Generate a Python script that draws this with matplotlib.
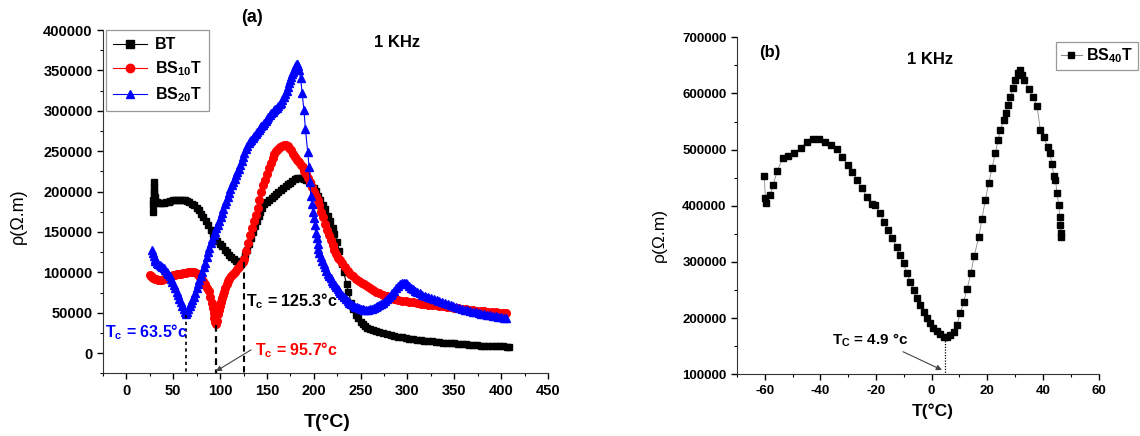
import matplotlib
matplotlib.use("Agg")
import matplotlib.pyplot as plt
from matplotlib.ticker import MultipleLocator
from matplotlib.lines import Line2D

# ---------------- data: panel (a) ----------------
bt_T = [28.5, 28.6, 28.8, 29.0, 29.1, 29.2, 29.6, 30, 31, 33, 35, 37, 40, 42, 45, 47, 50, 52, 55,
        57, 60, 62, 65, 67, 70, 72, 75, 77, 80, 82, 85, 87, 90, 92, 95, 97, 100, 102, 105, 107,
        110, 112, 115, 117, 119, 121, 123, 125, 127, 129, 131, 133, 135, 137, 139, 141, 143, 145,
        147, 150, 152, 155, 157, 160, 162, 165, 167, 170, 172, 175, 177, 180, 182, 185, 187, 190,
        192, 195, 197, 200, 202, 205, 207, 210, 212, 215, 217, 220, 222, 225, 227, 230, 232, 235,
        237, 240, 242, 245, 247, 250, 252, 255, 257, 260, 263, 266, 270, 274, 278, 282, 286, 290,
        294, 298, 302, 306, 310, 314, 318, 322, 326, 330, 334, 338, 342, 346, 350, 354, 358, 362,
        366, 370, 374, 378, 382, 386, 390, 394, 398, 402, 406, 408]
bt_R = [175000, 183000, 190000, 198000, 206000, 212000, 200000, 193000, 188000, 186500, 186000,
        186000, 186000, 186500, 187000, 188000, 189000, 189500, 190000, 190000, 190000, 189000,
        188000, 187000, 185000, 183000, 180000, 177000, 172000, 168000, 163000, 159000, 152000,
        148000, 142000, 139000, 135000, 132000, 128000, 125000, 121000, 119000, 116000, 114000,
        112500, 112000, 114000, 117000, 122000, 128000, 135000, 142000, 150000, 157000, 164000,
        170000, 175000, 180000, 184000, 187000, 189000, 192000, 194000, 197000, 199000, 202000,
        204000, 207000, 209000, 211000, 213000, 215000, 216500, 217000, 216500, 215000, 214000,
        212000, 209000, 205000, 201000, 195000, 190000, 183000, 178000, 170000, 164000, 155000,
        148000, 138000, 127000, 110000, 100000, 85000, 76000, 62000, 55000, 47000, 43000, 38000,
        36000, 33000, 31500, 30000, 29000, 27800, 26000, 25000, 23800, 22600, 21500, 20500,
        19500, 18500, 17800, 17200, 16600, 16000, 15500, 15000, 14500, 14000, 13500, 13100,
        12700, 12300, 12000, 11600, 11200, 10800, 10400, 10000, 9700, 9400, 9200, 9000, 8800,
        8600, 8400, 8200, 8100, 8000]

bs10_T = [25, 26, 27, 28.5, 30, 32, 34, 36, 38, 40, 42, 44, 46, 48, 50, 52, 54, 56, 58, 60, 62, 64,
          66, 68, 70, 72, 74, 76, 78, 80, 82, 84, 86, 88, 89.5, 91, 92, 93, 94, 95, 96, 97, 98, 99,
          100, 101, 102, 103, 104, 105.5, 107, 108.5, 110, 112, 114, 116, 118, 120, 122, 124, 126,
          128, 130, 132, 134, 136, 138, 140, 142, 144, 146, 148, 150, 152, 154, 156, 158, 160,
          162, 164, 166, 168, 170, 172, 174, 176, 178, 180, 182, 184, 186, 188, 190, 192, 194,
          196, 198, 200, 202, 204, 206, 208, 210, 212, 214, 216, 218, 220, 222, 224, 226, 228,
          230, 233, 236, 239, 242, 245, 248, 251, 254, 257, 260, 263, 266, 270, 274, 278, 282,
          286, 290, 294, 298, 302, 306, 310, 314, 318, 322, 326, 330, 334, 338, 342, 346, 350,
          354, 358, 362, 366, 370, 374, 378, 382, 386, 390, 394, 398, 402, 405]
bs10_R = [97000, 95500, 94000, 93000, 92000, 91500, 91000, 91000, 91000, 92000, 93000, 94000,
          95000, 95500, 96500, 97000, 97500, 98000, 98500, 99000, 99000, 99500, 100000, 100500,
          100500, 100000, 99000, 98000, 96000, 93000, 89000, 85000, 81000, 77000, 70000, 62000,
          56000, 50000, 44000, 38000, 36000, 40000, 48000, 53000, 58000, 63000, 68000, 72000,
          76000, 80000, 85000, 89000, 92000, 95000, 98000, 101000, 104000, 107000, 110000,
          113000, 117000, 126000, 136000, 146000, 155000, 163000, 171000, 180000, 190000,
          199000, 208000, 214000, 222000, 229000, 235000, 241000, 246000, 250000, 253000,
          255500, 257000, 258000, 257500, 256000, 254000, 251000, 246000, 243000, 239000,
          236000, 233000, 230000, 226000, 222000, 217000, 212000, 206000, 200000, 195000,
          190000, 183000, 175000, 168000, 160000, 153000, 146000, 140000, 134000, 128000,
          123000, 118000, 115000, 112000, 107000, 102000, 98000, 95000, 92000, 89500, 87000,
          85000, 82500, 80000, 78000, 76000, 74000, 72500, 71000, 69500, 67500, 66000, 65000,
          64300, 63600, 62800, 62000, 61200, 60500, 59800, 59300, 59000, 58400, 57800, 57300,
          56700, 56000, 55400, 54800, 54200, 53600, 53000, 52600, 52200, 51800, 51400, 51000,
          50600, 50200, 49800, 49500]

bs20_T = [27, 28, 29, 30, 31, 32.5, 34, 35.5, 37, 38.5, 40, 41.5, 43, 44.5, 46, 47.5, 49, 50.5, 52,
          53.5, 55, 56.5, 58, 59.5, 61, 62.5, 63.5, 64.5, 66, 67.5, 69, 70.5, 72, 73.5, 75, 76.5,
          78, 79.5, 81, 82.5, 84, 85.5, 87, 88.5, 90, 91.5, 93, 94.5, 96, 97.5, 99, 100.5, 102,
          103.5, 105, 106.5, 108, 109.5, 111, 112.5, 114, 115.5, 117, 118.5, 120, 121.5, 123,
          124.5, 126, 127.5, 129, 130.5, 132, 133.5, 135, 136.5, 138, 139.5, 141, 142.5, 144,
          145.5, 147, 148.5, 150, 151.5, 153, 154.5, 156, 157.5, 159, 160.5, 162, 163.5, 165,
          166.5, 168, 169.5, 171, 172.5, 174, 175, 176, 177, 178, 179, 180, 181, 181.8, 182.6,
          183.5, 184.5, 186, 187.5, 189.5, 191, 193.5, 195, 196, 197, 198, 199, 200, 201, 202,
          203, 204, 205, 206, 207.5, 209, 210.5, 212, 213.5, 215, 216.5, 218, 219.5, 221, 222.5,
          224, 225.5, 227, 228.5, 230, 232, 234, 236, 238, 240, 242, 244, 246, 248, 250, 252,
          254, 256, 258, 260, 262, 264, 266, 268, 270, 272, 274, 276, 278, 280, 282, 284, 286,
          288, 290, 292, 294, 296, 298, 300, 302, 304, 306, 308, 310, 313, 316, 319, 322, 325,
          328, 331, 334, 337, 340, 343, 346, 349, 352, 355, 358, 361, 364, 367, 370, 373, 376,
          379, 382, 385, 388, 391, 394, 397, 400, 403, 405]
bs20_R = [128000, 124000, 120000, 117000, 114000, 112000, 110000, 109000, 108000, 106500,
          105000, 103000, 101000, 98000, 95000, 91500, 88000, 84000, 80000, 76000, 72000, 67500,
          63000, 58500, 54000, 50500, 49000, 50500, 54000, 58000, 62000, 66000, 70000, 75000,
          80000, 85000, 90000, 95000, 100000, 106000, 112000, 118500, 125000, 130500, 136000,
          141000, 146000, 150500, 155000, 159000, 163000, 168500, 174000, 179000, 184000,
          188500, 193000, 198000, 203000, 207500, 212000, 216000, 220000, 224000, 228000,
          233000, 238000, 243000, 248000, 252500, 257000, 260000, 262000, 264000, 266000,
          268500, 271000, 273500, 276000, 278500, 281000, 283000, 285000, 287500, 290000,
          292500, 295000, 297000, 299000, 300500, 302000, 304000, 306000, 308000, 310000,
          313500, 317000, 321000, 325000, 330000, 335000, 338500, 342000, 345000, 348000,
          351000, 354000, 356500, 358000, 358000, 355000, 350000, 340000, 322000, 301000,
          278000, 249000, 230000, 212000, 194000, 184000, 175000, 167000, 158000, 149000,
          142000, 135000, 129000, 124000, 119000, 114000, 110000, 106000, 102000, 98500, 95500,
          92500, 89500, 86500, 84000, 81500, 79000, 77000, 75000, 72500, 69500, 67000, 64500,
          62500, 60500, 59000, 57500, 56500, 55500, 54500, 54000, 53600, 53500, 53700, 54000,
          54700, 55500, 56500, 57700, 59000, 60500, 62200, 64200, 66500, 69000, 71800, 74600,
          77400, 80200, 83000, 85300, 86800, 87200, 86500, 85000, 83000, 81000, 79000, 77500,
          76000, 74200, 72500, 71000, 69600, 68200, 66800, 65500, 64200, 62800, 61500, 60300,
          59000, 57800, 56700, 55700, 54700, 53800, 52900, 52000, 51200, 50400, 49600, 48900,
          48200, 47500, 46900, 46300, 45700, 45100, 44600, 44000, 43600]

# ---------------- data: panel (b) ----------------
bs40_T = [-60.2, -59.8, -59.4, -58.1, -57.0, -55.5, -53.6, -51.6, -49.5, -47.0, -44.8, -42.6,
          -40.4, -38.4, -36.3, -34.2, -32.1, -30.2, -28.5, -26.7, -25.0, -23.3, -21.5, -20.4,
          -18.6, -17.0, -15.6, -14.1, -12.6, -11.5, -10.1, -8.9, -7.7, -6.5, -5.3, -4.1, -2.9,
          -1.7, -0.5, 0.65, 1.9, 3.1, 4.3, 5.5, 6.7, 7.9, 9.1, 10.3, 11.5, 12.7, 14.1, 15.3,
          16.9, 18.1, 19.3, 20.5, 21.7, 22.9, 23.9, 24.7, 25.9, 26.9, 27.3, 28.3, 29.3, 30.1,
          30.9, 31.7, 32.5, 33.3, 34.9, 36.5, 37.9, 39.1, 40.3, 41.7, 42.5, 43.3, 43.9, 44.5,
          45.1, 45.7, 46.1, 46.3, 46.6, 46.4]
bs40_R = [453600, 413000, 404400, 419000, 437000, 462500, 484600, 488700, 493500, 503500,
          514000, 518400, 518400, 514000, 508000, 502000, 487400, 472600, 460700, 446000,
          431000, 416200, 403000, 401400, 386600, 371700, 357000, 342100, 326100, 312400,
          297600, 279800, 264900, 250100, 235300, 223400, 211500, 199700, 190800, 183000,
          177100, 171700, 167000, 165900, 170000, 175800, 187800, 208600, 229300, 251300,
          279800, 310600, 343900, 377000, 410300, 440000, 466800, 493500, 517100, 535000,
          552700, 565800, 579400, 594200, 609200, 624000, 635900, 641800, 632900, 624000,
          607400, 593200, 577700, 535000, 523000, 504100, 493500, 474400, 453000, 446000,
          422200, 401400, 380600, 365800, 351000, 345000]

tc_a = [63.5, 95.7, 125.3]
tc_b = 4.9

# ---------------- style ----------------
plt.rcParams['font.family'] = ['Liberation Sans', 'DejaVu Sans']
plt.rcParams['axes.unicode_minus'] = False
plt.rcParams['mathtext.fontset'] = 'custom'
plt.rcParams['mathtext.rm'] = 'Liberation Sans:bold'
plt.rcParams['mathtext.it'] = 'Liberation Sans:bold'
plt.rcParams['mathtext.bf'] = 'Liberation Sans:bold'

W, H = 1140, 436
fig = plt.figure(figsize=(W / 100, H / 100), dpi=100)

def box(l, t, r, b):
    return [l / W, 1 - b / H, (r - l) / W, (b - t) / H]

# ================= panel (a) =================
ax = fig.add_axes(box(103, 30, 548, 373.3))
ax.plot(bt_T, bt_R, color='black', lw=0.8, marker='s', ms=5, mfc='black', mec='black',
        label='BT')
ax.plot(bs10_T, bs10_R, color='red', lw=0.8, marker='o', ms=5.5, mfc='red', mec='red',
        label='BS$_{10}$T')
ax.plot(bs20_T, bs20_R, color='blue', lw=0.8, marker='^', ms=5.8, mfc='blue', mec='blue',
        label='BS$_{20}$T')
ax.set_xlim(-25, 450)
ax.set_ylim(-25000, 400000)
ax.xaxis.set_major_locator(MultipleLocator(50))
ax.xaxis.set_minor_locator(MultipleLocator(25))
ax.yaxis.set_major_locator(MultipleLocator(50000))
ax.yaxis.set_minor_locator(MultipleLocator(25000))
for s in ['top', 'right']:
    ax.spines[s].set_visible(False)
for s in ['left', 'bottom']:
    ax.spines[s].set_color('#333333')
ax.tick_params(which='major', direction='out', length=4, width=1, labelsize=10.5, colors='black')
ax.tick_params(which='minor', direction='out', length=2.5, width=0.8)
for lab in ax.get_xticklabels() + ax.get_yticklabels():
    lab.set_fontweight('bold')

ax.set_xlabel('T(°C)', fontsize=14, fontweight='bold')
ax.xaxis.set_label_coords(0.503, -0.118)
ax.set_ylabel('ρ(Ω.m)', fontsize=13)
ax.yaxis.set_label_coords(-0.171, 0.458)

leg = ax.legend(loc='upper left', bbox_to_anchor=(0.007, 1.0), borderaxespad=0,
                frameon=True, fancybox=False, edgecolor='#999999', framealpha=1,
                prop={'weight': 'bold', 'size': 11.5}, handlelength=2.1,
                handletextpad=0.5, labelspacing=0.45, borderpad=0.45, markerscale=1.1)
leg.get_frame().set_linewidth(0.9)

# Tc guide lines
ax.plot([tc_a[0], tc_a[0]], [47000, -25000], color='black', lw=1.2, ls=(0, (2, 2)))
ax.plot([tc_a[1], tc_a[1]], [35000, -25000], color='black', lw=1.6, ls=(0, (3, 2)))
ax.plot([tc_a[2], tc_a[2]], [113000, -25000], color='black', lw=1.5, ls=(0, (3, 2)))

ax.text(-22.8, 26300, 'T$_\\mathrm{c}$ = 63.5°c', color='blue', fontsize=11.5, fontweight='bold',
        ha='left', va='center')
ax.text(127.5, 63800, 'T$_\\mathrm{c}$ = 125.3°c', color='black', fontsize=11.5,
        fontweight='bold', ha='left', va='center')
ax.text(137.6, 3200, 'T$_\\mathrm{c}$ = 95.7°c', color='red', fontsize=11.5, fontweight='bold',
        ha='left', va='center')
ax.annotate('', xy=(95.5, -22500), xytext=(133, 4000),
            arrowprops=dict(arrowstyle='-|>', color='#444444', lw=0.8,
                            mutation_scale=8, shrinkA=0, shrinkB=0), clip_on=False)

fig.text(251.7 / W, 1 - 18 / H, '(a)', fontsize=13, fontweight='bold', ha='center', va='center')
fig.text(397 / W, 1 - 42.7 / H, '1 KHz', fontsize=12, fontweight='bold', ha='center', va='center')

# ================= panel (b) =================
bx = fig.add_axes(box(737, 37.3, 1098.5, 374.3))
bx.plot(bs40_T, bs40_R, color='#888888', lw=0.6, marker='s', ms=4.6, mfc='black', mec='black',
        label='BS$_{40}$T')
bx.set_xlim(-70, 60)
bx.set_ylim(100000, 700000)
bx.xaxis.set_major_locator(MultipleLocator(20))
bx.xaxis.set_minor_locator(MultipleLocator(10))
bx.yaxis.set_major_locator(MultipleLocator(100000))
bx.yaxis.set_minor_locator(MultipleLocator(50000))
for s in ['top', 'right']:
    bx.spines[s].set_visible(False)
for s in ['left', 'bottom']:
    bx.spines[s].set_color('#333333')
bx.tick_params(which='major', direction='out', length=4, width=1, labelsize=9.5)
bx.tick_params(which='minor', direction='out', length=2.5, width=0.8)
for lab in bx.get_xticklabels() + bx.get_yticklabels():
    lab.set_fontweight('bold')

bx.set_xlabel('T(°C)', fontsize=12.5, fontweight='bold')
bx.xaxis.set_label_coords(0.542, -0.085)
bx.set_ylabel('ρ(Ω.m)', fontsize=12.5)
bx.yaxis.set_label_coords(-0.194, 0.413)

bx.plot([tc_b, tc_b], [165000, 100000], color='black', lw=0.9, ls=(0, (1, 1.2)))
bx.text(-36, 161000, 'T$_\\mathrm{C}$ = 4.9 °c', fontsize=11, fontweight='bold',
        ha='left', va='center')
bx.annotate('', xy=(3.7, 107700), xytext=(-10.3, 140200),
            arrowprops=dict(arrowstyle='-|>', color='#444444', lw=0.8,
                            mutation_scale=8, shrinkA=0, shrinkB=0))

fig.text(770 / W, 1 - 53 / H, '(b)', fontsize=12, fontweight='bold', ha='center', va='center')
fig.text(930 / W, 1 - 59 / H, '1 KHz', fontsize=12, fontweight='bold', ha='center', va='center')

h = [Line2D([], [], color='#888888', lw=0.8, marker='s', ms=4.6, mfc='black', mec='black')]
legb = fig.legend(h, ['BS$_{40}$T'], loc='upper left', bbox_to_anchor=(1056 / W, 1 - 42 / H),
                  borderaxespad=0, frameon=True, fancybox=False, edgecolor='#999999',
                  framealpha=1, prop={'weight': 'bold', 'size': 11.5},
                  handlelength=1.3, handletextpad=0.3, borderpad=0.3)
legb.get_frame().set_linewidth(0.9)

fig.savefig('out.png', dpi=100)
